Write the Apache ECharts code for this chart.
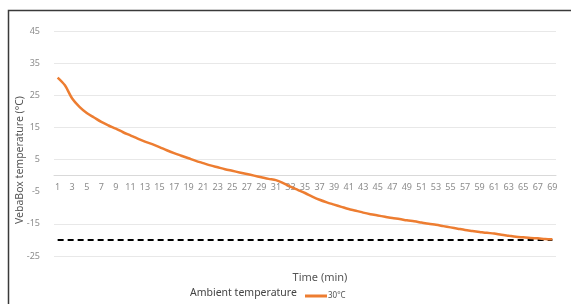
<!DOCTYPE html>
<html>
<head>
<meta charset="utf-8">
<script src="https://cdn.jsdelivr.net/npm/echarts@6/dist/echarts.min.js"></script>
<style>html,body{margin:0;padding:0;background:#fff}#c{width:571px;height:304px}</style>
</head>
<body>
<div id="c"></div>
<script>
const minutes = [];
for (let i = 1; i <= 69; i++) minutes.push(String(i));
const temp30 = [30.5, 28.1, 24.0, 21.4, 19.5, 18.1, 16.7, 15.6, 14.6, 13.5,
  12.5, 11.5, 10.6, 9.8, 8.9, 7.9, 7.0, 6.2, 5.4, 4.6,
  3.9, 3.2, 2.6, 2.0, 1.5, 1.0, 0.5, 0.0, -0.5, -1.0,
  -1.4, -2.3, -3.4, -4.4, -5.4, -6.5, -7.5, -8.3, -9.0, -9.7,
  -10.4, -10.9, -11.5, -12.0, -12.4, -12.8, -13.2, -13.5, -13.9, -14.2,
  -14.6, -15.0, -15.3, -15.7, -16.1, -16.5, -16.9, -17.2, -17.5, -17.8,
  -18.0, -18.4, -18.7, -19.0, -19.2, -19.4, -19.5, -19.7, -19.8];
const ambient = [-20, -20, -20, -20, -20, -20, -20, -20, -20, -20,
  -20, -20, -20, -20, -20, -20, -20, -20, -20, -20,
  -20, -20, -20, -20, -20, -20, -20, -20, -20, -20,
  -20, -20, -20, -20, -20, -20, -20, -20, -20, -20,
  -20, -20, -20, -20, -20, -20, -20, -20, -20, -20,
  -20, -20, -20, -20, -20, -20, -20, -20, -20, -20,
  -20, -20, -20, -20, -20, -20, -20, -20, -20];
const yMin = -25, yMax = 45, yStep = 10;
const FONT = 'Noto Sans';
const GRID_TOP = 31, GRID_BOTTOM = 48, H = 304;
const plotH = H - GRID_TOP - GRID_BOTTOM;
// place the category axis where value 0 sits
const zeroOffset = -plotH * (0 - yMin) / (yMax - yMin);

const chart = echarts.init(document.getElementById('c'), null, {renderer: 'canvas'});
chart.setOption({
  animation: false,
  backgroundColor: '#fff',
  textStyle: {fontFamily: FONT},
  grid: {left: 54, right: 15, top: GRID_TOP, bottom: GRID_BOTTOM, containLabel: false},
  legend: {
    data: ['30°C'], left: 300, top: 287,
    icon: 'rect', itemWidth: 22, itemHeight: 3,
    textStyle: {fontSize: 8, color: '#555', fontFamily: FONT, padding: [0, 0, 0, -4]}
  },
  graphic: [
    {type: 'rect', shape: {x: 8.5, y: 10.5, width: 700, height: 400}, style: {fill: 'none', stroke: '#3a3a3a', lineWidth: 1.5}, silent: true},
    {type: 'text', x: 20, y: 160, rotation: Math.PI / 2, style: {text: 'VebaBox temperature (°C)', fontSize: 10.5, fill: '#555', fontFamily: FONT, align: 'center', verticalAlign: 'middle'}},
    {type: 'text', x: 320, y: 278, style: {text: 'Time (min)', fontSize: 11, fill: '#555', fontFamily: FONT, align: 'center', verticalAlign: 'middle'}},
    {type: 'text', x: 190, y: 293, style: {text: 'Ambient temperature', fontSize: 10.5, fill: '#444', fontFamily: FONT, align: 'left', verticalAlign: 'middle'}}
  ],
  xAxis: {
    type: 'category', data: minutes, boundaryGap: true, position: 'bottom',
    offset: zeroOffset,
    axisLine: {onZero: false, lineStyle: {color: '#d9d9d9', width: 1}},
    axisTick: {show: false},
    axisLabel: {interval: 1, color: '#8c8c8c', fontSize: 9, margin: 7, fontFamily: FONT},
    splitLine: {show: false}
  },
  yAxis: {
    type: 'value', min: yMin, max: yMax, interval: yStep,
    axisLine: {show: false}, axisTick: {show: false},
    axisLabel: {color: '#8c8c8c', fontSize: 9, margin: 14, fontFamily: FONT},
    splitLine: {lineStyle: {color: ['#e8e8e8', '#e8e8e8', 'rgba(0,0,0,0)', '#e8e8e8', '#e8e8e8', '#e8e8e8', '#e8e8e8', '#e8e8e8'], width: 1}}
  },
  series: [
    {name: 'Ambient temperature', type: 'line', data: ambient, showSymbol: false, symbol: 'none',
      lineStyle: {color: '#000', width: 2, type: [6, 4]}, itemStyle: {color: '#000'}, z: 2},
    {name: '30°C', type: 'line', data: temp30, showSymbol: false, symbol: 'none', smooth: 0.3,
      lineStyle: {color: '#ED7D31', width: 2.5}, itemStyle: {color: '#ED7D31'}, z: 3}
  ]
});
</script>
</body>
</html>
